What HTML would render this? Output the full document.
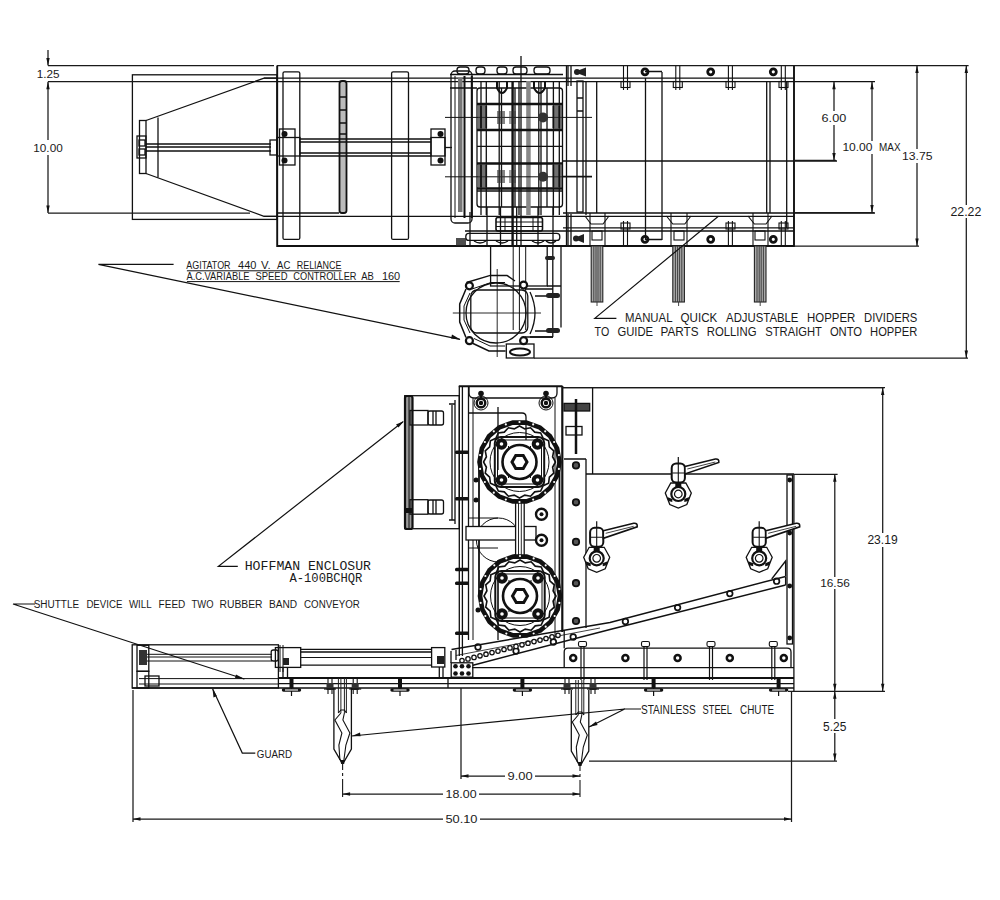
<!DOCTYPE html>
<html><head><meta charset="utf-8"><style>
html,body{margin:0;padding:0;background:#fff;width:1000px;height:900px;overflow:hidden}
svg{display:block}
text{font-family:"Liberation Sans",sans-serif;stroke:none}
</style></head><body>
<svg width="1000" height="900" viewBox="0 0 1000 900">
<!-- ===== TOP VIEW ===== -->
<g fill="none" stroke="#111" stroke-width="1.3">
<!-- dims left -->
<!-- hopper box -->
<rect x="132.4" y="74.8" width="144.6" height="144.6"/>
<path d="M146 120.5L264 78.2H277M146 173.5L264 216.3H277"/>
<rect x="139.5" y="120.5" width="6.5" height="53"/>
<path d="M158 117.5V177.5"/>
<rect x="137" y="136" width="9" height="22"/>
<rect x="139" y="140" width="6" height="6"/>
<rect x="139" y="149" width="6" height="6"/>
<path d="M146 144H271M146 147H271M146 151H271"/>
<rect x="270" y="140" width="7" height="15"/>
<!-- main frame -->
<path d="M277.2 65.5V246H794V65.5" stroke-width="1.9"/>
<rect x="283" y="71.8" width="16.8" height="167.6" rx="1.5"/>
<rect x="391.6" y="71.8" width="16.9" height="167.6" rx="1.5"/>
<path d="M250 81.7H875M339 213H277M264 78.2H794M264 216.3H794M563 213H875"/>
<rect x="339.5" y="81" width="7" height="132" rx="2.5" fill="#bbb" stroke-width="1.8"/>
<path d="M340 97H346M340 110H346M340 123H346M340 134H346"/>
<!-- shaft + bearings -->
<rect x="277" y="137.5" width="23" height="18.5"/>
<rect x="279.5" y="129" width="15.5" height="36"/>
<path d="M300 139H431M300 142H431M300 153H431M300 156H431"/>
<rect x="431" y="137.5" width="14" height="18.5"/>
<rect x="431" y="129" width="14" height="36"/>
<path d="M445 147.5H452"/>
</g>
<g fill="#111">
<circle cx="284.5" cy="134" r="3"/><circle cx="284.5" cy="160.5" r="3"/>
<circle cx="440.5" cy="134" r="3"/><circle cx="440.5" cy="160.5" r="3"/>
</g>

<!-- gear region -->
<g fill="none" stroke="#111" stroke-width="1.3">
<rect x="451" y="71" width="21" height="152" rx="4"/>
<path d="M464.5 76V218M471.8 76V218" stroke-width="2"/>
<path d="M455 76V218" stroke-width="1"/>
<rect x="458" y="78" width="4.5" height="134" fill="#777" stroke="none"/>
<rect x="477" y="88" width="85.5" height="119" rx="3"/>
<path d="M481 81V215M486.3 81V215M499.2 81V215M501.5 88V207M515 88V207M519 81V215M521 56V246M538.8 81V215M541 81V215M547 88V207M553.4 81V215M559.3 81V215M566.5 65V246"/>
<path d="M512.6 81V246" stroke-width="2.4"/>
<rect x="526.2" y="81" width="4.5" height="134" fill="#888" stroke="none"/>
<path d="M477 146.3H563M477 191H563"/>
<path d="M477 104H563M477 130H563M477 163.5H563M477 188.5H563" stroke-width="2.4"/>
<path d="M445 117.4H592M445 176.8H592" stroke-width="1"/>
<path d="M450 74.5H563M450 88H477"/>
</g>
<g fill="#333">
<rect x="478" y="105" width="9" height="24" opacity="0.7"/>
<rect x="553" y="105" width="9" height="24" opacity="0.7"/>
<rect x="478" y="164.5" width="9" height="23" opacity="0.7"/>
<rect x="553" y="164.5" width="9" height="23" opacity="0.7"/>
<circle cx="543" cy="117.4" r="5"/>
<circle cx="543" cy="176.8" r="5"/>
<rect x="497" y="111" width="8" height="13" opacity="0.6"/>
<rect x="497" y="170" width="8" height="13" opacity="0.6"/>
<rect x="509" y="111" width="7" height="13" opacity="0.45"/>
<rect x="509" y="170" width="7" height="13" opacity="0.45"/>
</g>
<g fill="none" stroke="#111" stroke-width="1.6">
<path d="M481 106V128M486.3 106V128M553.4 106V128M559.3 106V128M481 165V187M486.3 165V187M553.4 165V187M559.3 165V187"/>
</g>
<!-- top bolts on gear region -->
<g fill="none" stroke="#111" stroke-width="1.3">
<rect x="457" y="67" width="12" height="7" rx="3"/>
<rect x="476" y="67" width="9" height="7" rx="3"/>
<rect x="497" y="67" width="10" height="7" rx="3"/>
<rect x="513" y="67" width="14" height="7" rx="3"/>
<rect x="534" y="67" width="16" height="7" rx="3"/>
<path d="M497 81V88Q502 98 507 88V81M534 81V88Q539.5 98 545 88V81" stroke-width="2"/>
<path d="M465 231H563"/>
<rect x="465.8" y="233.4" width="94" height="7" rx="3"/>
<rect x="496" y="217.5" width="46.5" height="13.5" rx="2" stroke-width="1.6"/>
<path d="M496 222H542.5M496 226.5H542.5M505 217.5V231M533 217.5V231" stroke-width="1"/>
<path d="M474 241Q480 245 486 241M496 241Q502 245 508 241M532 241Q538 245 544 241M546 241Q551 245 556 241" stroke-width="1.4"/>
<path d="M470 212V246M487 207V246M500.5 207V246M538 207V246M553 207V246M516.7 207V246"/>
</g>
<g fill="#222">
<path d="M574 72L586 67.5V76.5Z"/>
<circle cx="577" cy="72" r="3"/><circle cx="576" cy="238.5" r="3"/>
<path d="M573 238.5L584 234V243Z"/>
<rect x="456" y="238" width="10" height="8" opacity="0.8"/>
</g>
<!-- right frame -->
<g fill="none" stroke="#111" stroke-width="1.3">
<path d="M568 66V86M571 66V86M568 214V246M571 214V246"/>
<rect x="577" y="81" width="6" height="131"/>
<path d="M577 98H583M577 111H583M586 81V215M596.7 81V213M563 161H837M563 176.5H592"/>
<path d="M645.5 78V240M662 72V240M645 71.5H662M645 239.5H662"/>
<path d="M766.7 81V213M770 81V213M786.7 81V228"/>
<path d="M563 227.8H794M563 231H794"/>
<path d="M875 81.5" />
</g>
<g fill="none" stroke="#111" stroke-width="2.8">
<circle cx="645" cy="71.8" r="3"/><circle cx="710.7" cy="71.8" r="3"/><circle cx="773.3" cy="71.8" r="3"/>
<circle cx="645" cy="239.3" r="3"/><circle cx="710.7" cy="239.3" r="3"/><circle cx="773.3" cy="239.3" r="3"/>
</g>
<g fill="none" stroke="#111" stroke-width="1.1">
<!-- bolts top -->
<path d="M623.5 65V90M627.5 65V90M675.8 65V90M679.8 65V90M728.4 65V90M732.4 65V90M781.3 65V90M785.3 65V90"/>
<rect x="621" y="81.5" width="9" height="6"/><rect x="673.3" y="81.5" width="9" height="6"/><rect x="726" y="81.5" width="9" height="6"/><rect x="779" y="81.5" width="9" height="6"/>
<!-- bolts bottom -->
<path d="M623.5 221V246M627.5 221V246M728.4 221V246M732.4 221V246M781.3 221V246M785.3 221V246"/>
<rect x="621" y="223" width="9" height="6"/><rect x="726" y="223" width="9" height="6"/><rect x="779" y="223" width="9" height="6"/>
<!-- rod brackets -->
<path d="M585 216L591 224H603L609 216M666.5 216L672.8 224H684.8L691 216M748 216L754.4 224H766L772 216"/>
<path d="M590 213V246M605 213V246M671 213V246M687 213V246M753 213V246M768 213V246"/>
<rect x="592" y="231" width="10" height="9"/><rect x="674" y="231" width="10" height="9"/><rect x="755" y="231" width="10" height="9"/>
</g>
<!-- rods -->
<g fill="#aaa" stroke="#222" stroke-width="1.1">
<rect x="591.2" y="246" width="11.6" height="56"/>
<rect x="672.8" y="246" width="11.6" height="56"/>
<rect x="754.4" y="246" width="11.6" height="56"/>
</g>
<g fill="none" stroke="#333" stroke-width="0.9">
<path d="M593.8 246V302M596.0 246V302M598.0 246V302M600.2 246V302M597.0 302V306M675.4 246V302M677.6 246V302M679.6 246V302M681.8 246V302M678.6 302V306M757.0 246V302M759.2 246V302M761.2 246V302M763.4 246V302M760.2 302V306"/>
</g>

<!-- motor -->
<g fill="none" stroke="#111" stroke-width="1.3">
<rect x="490.6" y="246" width="56.6" height="40"/>
<path d="M552.8 246V337M561 246V327.5M547 286H561M530 337H553"/>
<path d="M513.2 246V330M519.4 246V330M525.7 246V330" stroke-width="1"/>
<path d="M466.5 282.5L490.3 275.4H507L515 281M466 289L459.7 303.9V322L466 337.5M472 343L488.9 351H505.6" stroke-width="1.5"/>
<path d="M472 289L491 282.5H505M470 293L464 306V320L470 333M474 338.5L490 346H505" stroke-width="1"/>
<circle cx="496" cy="313" r="30"/>
<rect x="470.8" y="290" width="57" height="43" rx="6"/>
<path d="M530 292Q540 313 530 334" />
<path d="M452.8 313H541M497.2 269V357" stroke-width="0.9"/>
<rect x="506.3" y="344" width="27.7" height="14"/>
<ellipse cx="520" cy="352" rx="10" ry="3.5" stroke-width="2"/>
<path d="M525 289H553M525 337H553M535 296H553M535 331H553"/>
</g>
<g fill="#fff" stroke="#111" stroke-width="2.2">
<circle cx="469.4" cy="285.8" r="3.5"/><circle cx="469.4" cy="340.7" r="3.5"/>
<circle cx="523.6" cy="285.1" r="3.5"/><circle cx="523.6" cy="340.7" r="3.5"/>
</g>
<g fill="#222">
<rect x="545" y="256" width="10" height="4" rx="2"/>
<rect x="546" y="293" width="14" height="5" rx="2.5"/>
<rect x="546" y="328" width="14" height="5" rx="2.5"/>
<rect x="466" y="282" width="6" height="8" opacity="0"/>
</g>
<!-- leaders top -->
<g fill="none" stroke="#111" stroke-width="1.2">
<path d="M98.4 264.4H173.6M98.4 264.4L460 339.3"/>
<path d="M616.4 318.3H594.8L718.4 216.3"/>
</g>
<path d="M460.5 339.5L452 334.5L451 338.5Z" fill="#111"/>

<path d="M186.9 270.8H341.5M186.9 281.6H399.7" stroke="#111" stroke-width="1"/>



<!-- ===== SIDE VIEW ===== -->
<!-- Hoffman enclosure -->
<g fill="none" stroke="#111" stroke-width="1.3">
<rect x="404.7" y="395.7" width="54.6" height="133"/>
<rect x="405" y="396" width="7.5" height="133" rx="2" fill="#999" stroke-width="2.2"/>
<path d="M409 397V528" stroke-width="1"/>
<path d="M452 405V520M455 400V524"/>
<rect x="410" y="410.5" width="18" height="14.5"/>
<rect x="428" y="411" width="15.5" height="14" rx="2"/>
<path d="M433 411V425M436 411V425"/>
<rect x="410" y="499.7" width="18" height="14.5"/>
<rect x="428" y="500" width="15.5" height="14" rx="2"/>
<path d="M433 500V514M436 500V514"/>
<path d="M449 404H455M449 520H455"/>
</g>
<rect x="405" y="508" width="7" height="5" fill="#111"/>
<!-- housing -->
<g fill="none" stroke="#111" stroke-width="1.3">
<path d="M458.8 386.3H562.5" stroke-width="2"/>
<path d="M562.3 386V632" stroke-width="2.2"/>
<path d="M459.3 386V656M462.4 386V656M468.5 386V640"/>
<path d="M469 386V393Q469 398 474 398H552Q557 398 557 393V386"/>
<path d="M469 413H522Q526 413 526 417V440"/>
<path d="M498 407V470M498 560V640"/>
<path d="M562 387.6H884"/>
<path d="M592.6 387V474M586 459V628M564 459H586"/>
<path d="M586 474H794" stroke-width="1.5"/>
<path d="M473 398V640M555 398V640" stroke-width="1"/>
</g>
<!-- top bolts on housing -->
<g fill="none" stroke="#111">
<circle cx="481" cy="403" r="7" stroke-width="1"/><circle cx="546" cy="403" r="7" stroke-width="1"/>
<circle cx="481" cy="403" r="4.3" stroke-width="2.4"/><circle cx="546" cy="403" r="4.3" stroke-width="2.4"/>
</g>
<g fill="#111">
<circle cx="481" cy="403" r="2.2"/><circle cx="546" cy="403" r="2.2"/>
<circle cx="481" cy="393.5" r="2.8"/><circle cx="546" cy="393.5" r="2.8"/>
<rect x="480" y="393" width="2" height="7"/><rect x="545" y="393" width="2" height="7"/>
</g>
<!-- right column on housing -->
<g fill="none" stroke="#111" stroke-width="1.3">
<rect x="564" y="403.4" width="25.7" height="7.6" fill="#444"/>
<path d="M576 399V454" stroke-width="2.5"/>
<rect x="566" y="426.5" width="16" height="8.5"/>
</g>
<g fill="#555" stroke="#111" stroke-width="1.8">
<circle cx="576" cy="465.4" r="3.2"/><circle cx="576" cy="502.3" r="3.2"/><circle cx="576" cy="541.9" r="3.2"/><circle cx="576" cy="583.2" r="3.2"/><circle cx="576" cy="621" r="3.2"/>
</g>
<!-- left bolts -->
<g fill="#111">
<rect x="455" y="450.5" width="14" height="3.6" rx="1.5"/><rect x="455" y="497" width="14" height="3.6" rx="1.5"/><rect x="455" y="567.7" width="14" height="3.6" rx="1.5"/><rect x="455" y="581.4" width="14" height="3.6" rx="1.5"/><rect x="455" y="631.4" width="14" height="3.6" rx="1.5"/>
</g>

<defs>
<g id="spk">
<path d="M40.00 0.00L37.59 13.68L30.64 25.71L20.00 34.64L6.95 39.39L-6.95 39.39L-20.00 34.64L-30.64 25.71L-37.59 13.68L-40.00 0.00L-37.59 -13.68L-30.64 -25.71L-20.00 -34.64L-6.95 -39.39L6.95 -39.39L20.00 -34.64L30.64 -25.71L37.59 -13.68Z" fill="none" stroke="#111" stroke-width="4.6" stroke-linejoin="round"/>
<g fill="#fff" stroke="none"><circle cx="39.39" cy="6.95" r="1.1"/><circle cx="34.64" cy="20.00" r="1.1"/><circle cx="25.71" cy="30.64" r="1.1"/><circle cx="13.68" cy="37.59" r="1.1"/><circle cx="0.00" cy="40.00" r="1.1"/><circle cx="-13.68" cy="37.59" r="1.1"/><circle cx="-25.71" cy="30.64" r="1.1"/><circle cx="-34.64" cy="20.00" r="1.1"/><circle cx="-39.39" cy="6.95" r="1.1"/><circle cx="-39.39" cy="-6.95" r="1.1"/><circle cx="-34.64" cy="-20.00" r="1.1"/><circle cx="-25.71" cy="-30.64" r="1.1"/><circle cx="-13.68" cy="-37.59" r="1.1"/><circle cx="-0.00" cy="-40.00" r="1.1"/><circle cx="13.68" cy="-37.59" r="1.1"/><circle cx="25.71" cy="-30.64" r="1.1"/><circle cx="34.64" cy="-20.00" r="1.1"/><circle cx="39.39" cy="-6.95" r="1.1"/></g>
<path d="M36.00 0.00L33.09 5.24L34.24 11.12L29.85 15.21L29.12 21.16L23.69 23.69L21.16 29.12L15.21 29.85L11.12 34.24L5.24 33.09L0.00 36.00L-5.24 33.09L-11.12 34.24L-15.21 29.85L-21.16 29.12L-23.69 23.69L-29.12 21.16L-29.85 15.21L-34.24 11.12L-33.09 5.24L-36.00 0.00L-33.09 -5.24L-34.24 -11.12L-29.85 -15.21L-29.12 -21.16L-23.69 -23.69L-21.16 -29.12L-15.21 -29.85L-11.12 -34.24L-5.24 -33.09L-0.00 -36.00L5.24 -33.09L11.12 -34.24L15.21 -29.85L21.16 -29.12L23.69 -23.69L29.12 -21.16L29.85 -15.21L34.24 -11.12L33.09 -5.24Z" fill="none" stroke="#111" stroke-width="1.6"/>
<circle r="29.5" fill="none" stroke="#111" stroke-width="1"/>
<rect x="-24.7" y="-25" width="49.4" height="50" rx="6" fill="none" stroke="#111" stroke-width="2"/>
<path d="M-22 -17V17M22 -17V17M-17 -22H17M-17 22H17M-11 -16V16M11 -16V16" fill="none" stroke="#111" stroke-width="1"/>
<g fill="#111" stroke="none">
<circle cx="-18" cy="-18" r="5.8"/><circle cx="18" cy="-18" r="5.8"/><circle cx="-18" cy="18" r="5.8"/><circle cx="18" cy="18" r="5.8"/>
</g>
<g fill="#fff"><circle cx="-18" cy="-18" r="1.8"/><circle cx="18" cy="-18" r="1.8"/><circle cx="-18" cy="18" r="1.8"/><circle cx="18" cy="18" r="1.8"/></g>
<circle r="17" fill="#fff" stroke="#111" stroke-width="2.6"/>
<path d="M7.50 0.00L3.75 6.50L-3.75 6.50L-7.50 0.00L-3.75 -6.50L3.75 -6.50Z" fill="none" stroke="#111" stroke-width="3"/>
</g>
</defs>
<g fill="none" stroke="#111" stroke-width="1.3">
<path d="M479 462V596M559.5 462V596" stroke-width="1.8"/>
<circle cx="498.4" cy="540" r="22" stroke-width="1"/>
<rect x="466" y="526.5" width="70" height="13.5" fill="#fff"/>
<rect x="515.6" y="500" width="8.6" height="58" fill="#fff"/>
<path d="M518.5 500V558M521.3 500V558" stroke-width="0.9"/>
<path d="M469 518H498M469 548H498" stroke-width="1"/>
</g>
<use href="#spk" x="519.5" y="462"/>
<use href="#spk" x="520" y="596"/>
<g fill="none" stroke="#111" stroke-width="2.4">
<circle cx="541.5" cy="514.3" r="5.5"/><circle cx="541.5" cy="540.2" r="5.5"/>
</g>
<g fill="#111"><circle cx="541.5" cy="514.3" r="2"/><circle cx="541.5" cy="540.2" r="2"/>
<circle cx="478" cy="610" r="2.5"/><circle cx="476" cy="480" r="2.5"/><circle cx="476" cy="500" r="2.5"/>
</g>

<defs>
<g id="clamp">
<path d="M0 -37V-31" stroke="#111" stroke-width="1.2"/>
<rect x="-6.6" y="-30.5" width="13.2" height="19" rx="4.5" fill="#fff" stroke="#111" stroke-width="2"/>
<path d="M0 -30V-12M-6 -21H6" stroke="#111" stroke-width="1.1"/>
<path d="M6.6 -27.5L37 -35Q41 -35.5 40.5 -31.5L6.6 -20Z" fill="#fff" stroke="#111" stroke-width="1.6"/>
<path d="M9 -25L37 -32" stroke="#111" stroke-width="0.8"/>
<path d="M-13 -1L-7.5 -11H7.5L13 -1L8.5 10.5L0 14L-8.5 10.5Z" fill="#fff" stroke="#111" stroke-width="1.3"/>
<circle r="7" fill="#fff" stroke="#111" stroke-width="2.2"/>
<circle r="3.8" fill="none" stroke="#111" stroke-width="1.2"/>
<path d="M-11 3L-6 5V8L-10 7ZM11 3L6 5V8L10 7Z" fill="#111"/>
<rect x="-3" y="-11.5" width="6" height="5" fill="#111"/>
</g>
</defs>
<!-- hopper box -->
<g fill="none" stroke="#111" stroke-width="1.3">
<path d="M793.9 474V692"/>
<rect x="787" y="475" width="5.5" height="169"/>
<path d="M451.5 649.5L610 622.4L785.6 576.4M472 665.5L610 629.4L785.6 585" stroke-width="1.5"/>
<path d="M785.6 576.4V585M771.7 579L785.6 561V576"/>
<path d="M451 651V663M456 650V660" />
<path d="M456 655.5L600 628" stroke-width="0.8"/>
</g>
<g fill="#111"><circle cx="789.7" cy="480" r="2.4"/><circle cx="789.7" cy="533" r="2.4"/><circle cx="789.7" cy="586" r="2.4"/><circle cx="789.7" cy="638" r="2.4"/></g>
<g fill="none" stroke="#111" stroke-width="1.7">
<circle cx="625.4" cy="621.5" r="2.8"/><circle cx="677.6" cy="607.6" r="2.8"/><circle cx="729.8" cy="593.6" r="2.8"/><circle cx="776.6" cy="581.2" r="2.8"/>
<circle cx="573.2" cy="637" r="2.8"/><circle cx="553.4" cy="642" r="2.8"/><circle cx="516" cy="651" r="2.8"/><circle cx="478" cy="647" r="2.8"/>
</g>
<!-- chain rollers -->
<g fill="#fff" stroke="#111" stroke-width="1.3">
<circle cx="462" cy="660.5" r="2.2"/><circle cx="468" cy="658.9" r="2.2"/><circle cx="474" cy="657.4" r="2.2"/><circle cx="480" cy="655.8" r="2.2"/><circle cx="486" cy="654.2" r="2.2"/><circle cx="492" cy="652.6" r="2.2"/><circle cx="498" cy="651.1" r="2.2"/><circle cx="504" cy="649.5" r="2.2"/><circle cx="510" cy="647.9" r="2.2"/><circle cx="516" cy="646.4" r="2.2"/><circle cx="522" cy="644.8" r="2.2"/><circle cx="528" cy="643.2" r="2.2"/><circle cx="534" cy="641.6" r="2.2"/><circle cx="540" cy="640.1" r="2.2"/><circle cx="546" cy="638.5" r="2.2"/><circle cx="552" cy="636.9" r="2.2"/><circle cx="558" cy="635.3" r="2.2"/>
</g>
<rect x="451.2" y="662.8" width="21.6" height="14.4" fill="#fff" stroke="#111" stroke-width="1.3"/>
<g fill="#111"><circle cx="455.5" cy="666.3" r="2.3"/><circle cx="462" cy="666.3" r="2.3"/><circle cx="468.5" cy="666.3" r="2.3"/><circle cx="455.5" cy="673.5" r="2.3"/><circle cx="462" cy="673.5" r="2.3"/><circle cx="468.5" cy="673.5" r="2.3"/></g>
<!-- bottom frame -->
<g fill="none" stroke="#111" stroke-width="1.3">
<path d="M564.2 667.6V652Q564.2 648.2 568 648.2H787Q791 648.2 791 652V668"/>
<path d="M472 667.6H794M564.2 648.2V630"/>
<path d="M278 678H794" stroke-width="2"/>
<path d="M278 683.6H794M132 688H794"/>
</g>
<g fill="none" stroke="#111" stroke-width="2.5">
<circle cx="573.2" cy="657.9" r="3"/><circle cx="625.4" cy="657.9" r="3"/><circle cx="677.6" cy="657.9" r="3"/><circle cx="729.8" cy="657.9" r="3"/><circle cx="783.8" cy="657.9" r="3"/>
</g>
<g fill="none" stroke="#111" stroke-width="1.1">
<path d="M581 646V680M584 646V680M644 646V680M647 646V680M709.5 646V680M712.5 646V680M771.8 646V680M774.8 646V680" stroke-width="1.2"/>
<rect x="578.5" y="641.5" width="8" height="5" rx="1.5" fill="#fff"/><rect x="641.5" y="641.5" width="8" height="5" rx="1.5" fill="#fff"/><rect x="707" y="641.5" width="8" height="5" rx="1.5" fill="#fff"/><rect x="769.3" y="641.5" width="8" height="5" rx="1.5" fill="#fff"/>
</g>
<use href="#clamp" x="678.3" y="494"/>
<use href="#clamp" x="596.7" y="558.3"/>
<use href="#clamp" x="759.2" y="558.3"/>

<defs>
<g id="chute">
<path d="M-8.7 0V61L-1.7 73H1.8L8.8 61V0" fill="none" stroke="#111" stroke-width="1.3"/>
<path d="M-4.2 -10V25M-1.7 -10V25M1.8 -10V25M3.8 -10V25" fill="none" stroke="#222" stroke-width="1"/>
<path d="M-1.7 25L-7.7 32L-0.7 45L-3.7 57L-2.7 72M1.8 25L0.3 32L7.3 45L3.3 57L1.3 72M-4.2 25L-1.7 22L1.8 22L3.8 25" fill="none" stroke="#111" stroke-width="1.1"/>
<path d="M-2.5 72H2.5L1.5 76H-1.5Z" fill="#111"/>
</g>
<g id="foot">
<path d="M0 -6V13" stroke="#111" stroke-width="1.2"/>
<path d="M-2 -5H2V5H-2Z" fill="#111"/>
<path d="M-8 7H8" stroke="#111" stroke-width="3.4" stroke-linecap="round"/>
<path d="M-6.5 7H6.5" stroke="#fff" stroke-width="1.1"/>
</g>
<g id="bolt">
<path d="M-2 -5V11M2 -5V11" stroke="#111" stroke-width="1.1"/>
<rect x="-3.5" y="0" width="7" height="7" fill="#333"/>
<path d="M-6 6H6" stroke="#111" stroke-width="1.2"/>
</g>
</defs>
<!-- shuttle -->
<g fill="none" stroke="#111" stroke-width="1.3">
<rect x="132.2" y="644.8" width="146.2" height="43.2"/>
<path d="M140 654.3H272M140 657H272M140 661H272" stroke-width="1"/>
<rect x="137" y="645.3" width="11.8" height="26"/>
<rect x="137" y="671.3" width="11.8" height="16.7"/>
<path d="M139 678.6H278M139 684H278" stroke-width="1"/>
<rect x="145" y="676" width="14" height="10"/>
<rect x="271.2" y="650" width="7" height="11" rx="2"/>
</g>
<g fill="#333"><rect x="139" y="650" width="8" height="15"/></g>
<!-- cylinder -->
<g fill="none" stroke="#111" stroke-width="1.3">
<rect x="275.4" y="647.6" width="25.3" height="19.8"/>
<path d="M280 645V672M283 645V672" stroke-width="1"/>
<path d="M300.7 649.4H431.6M300.7 652H431.6M300.7 665.2H431.6"/>
<path d="M300.7 657.5H431.6" stroke-width="1"/>
<rect x="431.6" y="647.6" width="13.2" height="19.4"/>
<path d="M283 667V678M287.5 667V678M439.3 667V678M443 667V678"/>
<path d="M448 678V688" />
</g>
<g fill="#222"><rect x="283" y="658" width="6" height="7"/><rect x="437" y="656" width="7" height="8"/></g>
<!-- feet -->
<use href="#foot" x="291.5" y="683"/>
<use href="#foot" x="400" y="683"/>
<use href="#foot" x="522.4" y="683"/>
<use href="#foot" x="653.6" y="683"/>
<use href="#foot" x="778.6" y="683"/>
<use href="#bolt" x="330" y="683"/>
<use href="#bolt" x="355.2" y="683"/>
<use href="#bolt" x="567" y="683"/>
<use href="#bolt" x="593" y="683"/>
<!-- chutes -->
<use href="#chute" x="342.6" y="688"/>
<use href="#chute" x="580" y="690"/>
<!-- leaders lower -->
<g fill="none" stroke="#111" stroke-width="1.2">
<path d="M237.8 566.3H218.4L403 421.8"/>
<path d="M35 604H13L244.2 679"/>
<path d="M212.7 689L242.3 753.1H255.3"/>
<path d="M641 709H624.7L352 736M624.7 709L589 727"/>
</g>
<g fill="#111">
<path d="M404 421L396 424.5L398.5 427.5Z"/>
<path d="M245 679.3L236 674.5L235 678Z"/>
<path d="M212.5 688.5L213.5 697.5L216.8 696Z"/>
<path d="M352 736L360 732.5L360.6 736.2Z"/>
<path d="M589 727L596 721.5L597.6 725Z"/>
</g>



<!-- dims -->
<g fill="none" stroke="#1a1a1a" stroke-width="1.25">
<path d="M48 65.5H274M277 65.5H968.6M48 81.7H250M48 213H250M794 160.4H836M794 212.5H874M794 246H919M534 358H968M562 387.6H885M794 474.3H837.6M788 691.3H885M589 761H837M461 688V779M133 690V822M791.5 691V822"/>
<path d="M342.6 763V770M342.6 773V776M342.6 779V797M580 766V771M580 774V777M580 780V797" stroke-width="1.1"/>
<path d="M48 50V65.5M48 81.7V140M48 155V213M834 81.7V111M834 125V160.4M872 81.7V141M872 154V212.5M917 65.5V149M917 163V246M966.3 65.5V205M966.3 218V358M882.7 387.6V533M882.7 547V691.3M834.8 474.3V577M834.8 589V691.3M834.8 691.3V719M834.8 733V761M461 776H505M535 776H580M342.6 794H443M479 794H580M133 819H443M480 819H791.5"/>
</g>
<path d="M48 65.5L46.3 58.0H49.7ZM48 81.7L46.30 89.20H49.70ZM48 213L46.30 205.50H49.70ZM834 81.7L832.30 89.20H835.70ZM834 160.4L832.30 152.90H835.70ZM872 81.7L870.30 89.20H873.70ZM872 212.5L870.30 205.00H873.70ZM917 65.5L915.30 73.00H918.70ZM917 246L915.30 238.50H918.70ZM966.3 65.5L964.60 73.00H968.00ZM966.3 358L964.60 350.50H968.00ZM882.7 387.6L881.00 395.10H884.40ZM882.7 691.3L881.00 683.80H884.40ZM834.8 474.3L833.10 481.80H836.50ZM834.8 691.3L833.10 683.80H836.50ZM834.8 691.3L833.10 698.80H836.50ZM834.8 761L833.10 753.50H836.50ZM461 776L468.50 774.30V777.70ZM580 776L572.50 774.30V777.70ZM342.6 794L350.10 792.30V795.70ZM580 794L572.50 792.30V795.70ZM133 819L140.50 817.30V820.70ZM791.5 819L784.00 817.30V820.70Z" fill="#111"/>
<g fill="#1a1a1a">
<text x="186.3" y="269.3" font-size="11.3" style="font-family:Liberation Sans" textLength="44.3" lengthAdjust="spacingAndGlyphs">AGITATOR</text>
<text x="238.0" y="269.3" font-size="11.3" style="font-family:Liberation Sans" textLength="18.4" lengthAdjust="spacingAndGlyphs">440</text>
<text x="261.0" y="269.3" font-size="11.3" style="font-family:Liberation Sans" textLength="9.7" lengthAdjust="spacingAndGlyphs">V.</text>
<text x="277.1" y="269.3" font-size="11.3" style="font-family:Liberation Sans" textLength="13.3" lengthAdjust="spacingAndGlyphs">AC</text>
<text x="296.7" y="269.3" font-size="11.3" style="font-family:Liberation Sans" textLength="44.8" lengthAdjust="spacingAndGlyphs">RELIANCE</text>
<text x="186.4" y="279.8" font-size="10.9" style="font-family:Liberation Sans" textLength="63.2" lengthAdjust="spacingAndGlyphs">A.C.VARIABLE</text>
<text x="255.4" y="279.8" font-size="10.9" style="font-family:Liberation Sans" textLength="32.1" lengthAdjust="spacingAndGlyphs">SPEED</text>
<text x="293.3" y="279.8" font-size="10.9" style="font-family:Liberation Sans" textLength="63.2" lengthAdjust="spacingAndGlyphs">CONTROLLER</text>
<text x="361.2" y="279.8" font-size="10.9" style="font-family:Liberation Sans" textLength="12.6" lengthAdjust="spacingAndGlyphs">AB</text>
<text x="381.9" y="279.8" font-size="10.9" style="font-family:Liberation Sans" textLength="18.3" lengthAdjust="spacingAndGlyphs">160</text>
<text x="625.1" y="322.2" font-size="13.0" style="font-family:Liberation Sans" textLength="47.4" lengthAdjust="spacingAndGlyphs">MANUAL</text>
<text x="680.5" y="322.2" font-size="13.0" style="font-family:Liberation Sans" textLength="36.8" lengthAdjust="spacingAndGlyphs">QUICK</text>
<text x="726.1" y="322.2" font-size="13.0" style="font-family:Liberation Sans" textLength="72.3" lengthAdjust="spacingAndGlyphs">ADJUSTABLE</text>
<text x="807.1" y="322.2" font-size="13.0" style="font-family:Liberation Sans" textLength="48.2" lengthAdjust="spacingAndGlyphs">HOPPER</text>
<text x="864.1" y="322.2" font-size="13.0" style="font-family:Liberation Sans" textLength="53.2" lengthAdjust="spacingAndGlyphs">DIVIDERS</text>
<text x="594.6" y="335.8" font-size="12.9" style="font-family:Liberation Sans" textLength="14.6" lengthAdjust="spacingAndGlyphs">TO</text>
<text x="617.4" y="335.8" font-size="12.9" style="font-family:Liberation Sans" textLength="35.7" lengthAdjust="spacingAndGlyphs">GUIDE</text>
<text x="660.6" y="335.8" font-size="12.9" style="font-family:Liberation Sans" textLength="38.0" lengthAdjust="spacingAndGlyphs">PARTS</text>
<text x="706.7" y="335.8" font-size="12.9" style="font-family:Liberation Sans" textLength="49.8" lengthAdjust="spacingAndGlyphs">ROLLING</text>
<text x="765.3" y="335.8" font-size="12.9" style="font-family:Liberation Sans" textLength="56.6" lengthAdjust="spacingAndGlyphs">STRAIGHT</text>
<text x="829.9" y="335.8" font-size="12.9" style="font-family:Liberation Sans" textLength="32.2" lengthAdjust="spacingAndGlyphs">ONTO</text>
<text x="870.1" y="335.8" font-size="12.9" style="font-family:Liberation Sans" textLength="47.2" lengthAdjust="spacingAndGlyphs">HOPPER</text>
<text x="33.7" y="608.0" font-size="11.7" style="font-family:Liberation Sans" textLength="45.4" lengthAdjust="spacingAndGlyphs">SHUTTLE</text>
<text x="86.4" y="608.0" font-size="11.7" style="font-family:Liberation Sans" textLength="36.0" lengthAdjust="spacingAndGlyphs">DEVICE</text>
<text x="128.9" y="608.0" font-size="11.7" style="font-family:Liberation Sans" textLength="22.7" lengthAdjust="spacingAndGlyphs">WILL</text>
<text x="158.6" y="608.0" font-size="11.7" style="font-family:Liberation Sans" textLength="26.7" lengthAdjust="spacingAndGlyphs">FEED</text>
<text x="191.6" y="608.0" font-size="11.7" style="font-family:Liberation Sans" textLength="21.9" lengthAdjust="spacingAndGlyphs">TWO</text>
<text x="219.5" y="608.0" font-size="11.7" style="font-family:Liberation Sans" textLength="43.1" lengthAdjust="spacingAndGlyphs">RUBBER</text>
<text x="269.0" y="608.0" font-size="11.7" style="font-family:Liberation Sans" textLength="28.2" lengthAdjust="spacingAndGlyphs">BAND</text>
<text x="304.1" y="608.0" font-size="11.7" style="font-family:Liberation Sans" textLength="55.7" lengthAdjust="spacingAndGlyphs">CONVEYOR</text>
<text x="244.7" y="570.1" font-size="12.7" style="font-family:Liberation Mono" textLength="55.5" lengthAdjust="spacingAndGlyphs">HOFFMAN</text>
<text x="308.0" y="570.1" font-size="12.7" style="font-family:Liberation Mono" textLength="62.9" lengthAdjust="spacingAndGlyphs">ENCLOSUR</text>
<text x="289.5" y="582.3" font-size="12.0" style="font-family:Liberation Mono" textLength="72.9" lengthAdjust="spacingAndGlyphs">A-100BCHQR</text>
<text x="640.9" y="713.7" font-size="12.1" style="font-family:Liberation Sans" textLength="54.9" lengthAdjust="spacingAndGlyphs">STAINLESS</text>
<text x="702.5" y="713.7" font-size="12.1" style="font-family:Liberation Sans" textLength="29.5" lengthAdjust="spacingAndGlyphs">STEEL</text>
<text x="740.0" y="713.7" font-size="12.1" style="font-family:Liberation Sans" textLength="34.1" lengthAdjust="spacingAndGlyphs">CHUTE</text>
<text x="256.8" y="757.6" font-size="11.1" style="font-family:Liberation Sans" textLength="35.3" lengthAdjust="spacingAndGlyphs">GUARD</text>
<text x="36.7" y="77.6" font-size="10.9" style="font-family:Liberation Sans" textLength="22.8" lengthAdjust="spacingAndGlyphs">1.25</text>
<text x="33.3" y="151.7" font-size="11.1" style="font-family:Liberation Sans" textLength="29.4" lengthAdjust="spacingAndGlyphs">10.00</text>
<text x="821.6" y="121.8" font-size="10.6" style="font-family:Liberation Sans" textLength="24.6" lengthAdjust="spacingAndGlyphs">6.00</text>
<text x="842.4" y="151.3" font-size="11.3" style="font-family:Liberation Sans" textLength="30.1" lengthAdjust="spacingAndGlyphs">10.00</text>
<text x="879.0" y="151.3" font-size="11.3" style="font-family:Liberation Sans" textLength="21.5" lengthAdjust="spacingAndGlyphs">MAX</text>
<text x="902.0" y="159.8" font-size="11.3" style="font-family:Liberation Sans" textLength="30.5" lengthAdjust="spacingAndGlyphs">13.75</text>
<text x="950.4" y="215.6" font-size="12.0" style="font-family:Liberation Sans" textLength="31.0" lengthAdjust="spacingAndGlyphs">22.22</text>
<text x="867.4" y="544.0" font-size="12.0" style="font-family:Liberation Sans" textLength="30.2" lengthAdjust="spacingAndGlyphs">23.19</text>
<text x="820.2" y="586.8" font-size="11.1" style="font-family:Liberation Sans" textLength="29.6" lengthAdjust="spacingAndGlyphs">16.56</text>
<text x="823.0" y="730.8" font-size="12.1" style="font-family:Liberation Sans" textLength="23.3" lengthAdjust="spacingAndGlyphs">5.25</text>
<text x="507.5" y="780.0" font-size="10.9" style="font-family:Liberation Sans" textLength="25.1" lengthAdjust="spacingAndGlyphs">9.00</text>
<text x="445.5" y="797.6" font-size="10.9" style="font-family:Liberation Sans" textLength="31.1" lengthAdjust="spacingAndGlyphs">18.00</text>
<text x="445.4" y="823.0" font-size="11.4" style="font-family:Liberation Sans" textLength="32.1" lengthAdjust="spacingAndGlyphs">50.10</text>
</g>
</svg>
</body></html>
